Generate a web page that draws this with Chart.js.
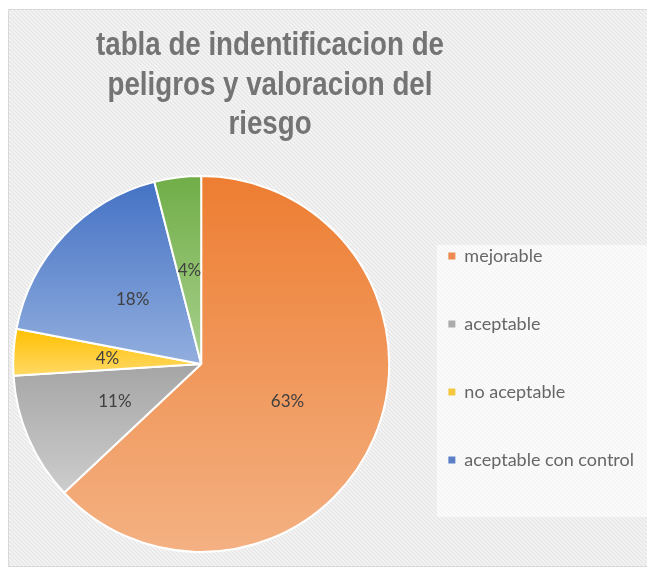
<!DOCTYPE html>
<html><head><meta charset="utf-8">
<script src="https://cdn.jsdelivr.net/npm/chart.js@4/dist/chart.umd.min.js"></script>
<style>html,body{margin:0;padding:0;background:#fff;}#wrap{width:647px;height:568px;position:relative;}</style>
</head><body><div id="wrap"><canvas id="c"></canvas></div>
<script>
const titleLines = ['tabla de indentificacion de', 'peligros y valoracion del', 'riesgo'];
const categories = ['mejorable', 'aceptable', 'no aceptable', 'aceptable con control', ''];
const values = [63, 11, 4, 18, 4];
const legendCount = 4;
const colorsTop = ['#ED7D31', '#A5A5A5', '#FFC000', '#4472C4', '#70AD47'];
const colorsBottom = ['#F4B183', '#CDCDCD', '#FFD966', '#92AEDE', '#A9D18E'];
const legendColors = ['#EE8A50', '#ABABAB', '#F5C842', '#5B7FC6'];

function sliceGradient(ctx) {
  const i = ctx.dataIndex;
  const chart = ctx.chart;
  const area = chart.chartArea;
  if (!area) return colorsTop[i];
  const cx = (area.left + area.right) / 2, cy = (area.top + area.bottom) / 2;
  const r = Math.min(area.right - area.left, area.bottom - area.top) / 2;
  const total = values.reduce((a, b) => a + b, 0);
  let start = -Math.PI / 2;
  for (let k = 0; k < i; k++) start += values[k] / total * 2 * Math.PI;
  const end = start + values[i] / total * 2 * Math.PI;
  const ys = [cy, cy + r * Math.sin(start), cy + r * Math.sin(end)];
  for (const a of [-Math.PI / 2, Math.PI / 2, 3 * Math.PI / 2]) {
    if (a >= start && a <= end) ys.push(cy + r * Math.sin(a));
  }
  const y0 = Math.min(...ys), y1 = Math.max(...ys);
  const g = chart.ctx.createLinearGradient(0, y0, 0, y1 + 0.01);
  g.addColorStop(0, colorsTop[i]);
  g.addColorStop(1, colorsBottom[i]);
  return g;
}

function makePattern(c) {
  const p = document.createElement('canvas');
  p.width = 4; p.height = 4;
  const x = p.getContext('2d');
  x.fillStyle = '#F5F5F5';
  x.fillRect(0, 0, 4, 4);
  x.strokeStyle = '#E3E3E3';
  x.lineWidth = 1.2;
  x.beginPath();
  x.moveTo(-1, -1); x.lineTo(5, 5);
  x.moveTo(-1, 3); x.lineTo(1, 5);
  x.moveTo(3, -1); x.lineTo(5, 1);
  x.stroke();
  return c.createPattern(p, 'repeat');
}

const bgPlugin = {
  id: 'bg',
  beforeDraw(chart) {
    const c = chart.ctx;
    c.save();
    c.fillStyle = '#ffffff';
    c.fillRect(0, 0, chart.width, chart.height);
    c.fillStyle = makePattern(c);
    c.fillRect(8, 9, chart.width - 8, chart.height - 10);
    c.strokeStyle = '#D9D9D9';
    c.lineWidth = 1;
    c.strokeRect(8.5, 9.5, chart.width - 8, chart.height - 11);
    c.fillStyle = 'rgba(255,255,255,0.6)';
    c.fillRect(437, 245, chart.width - 437, 272);
    c.restore();
  }
};

const titlePlugin = {
  id: 'narrowTitle',
  afterDraw(chart) {
    const c = chart.ctx;
    c.save();
    c.font = 'bold 34px "Liberation Sans", Arial, sans-serif';
    c.fillStyle = '#747474';
    c.textAlign = 'center';
    c.textBaseline = 'alphabetic';
    const cx = 270;
    titleLines.forEach((line, i) => {
      c.save();
      c.translate(cx, 55 + i * 39.5);
      c.scale(0.815, 1);
      c.fillText(line, 0, 0);
      c.restore();
    });
    c.restore();
  }
};

const labelPlugin = {
  id: 'pctLabels',
  afterDatasetsDraw(chart) {
    const c = chart.ctx;
    const meta = chart.getDatasetMeta(0);
    const total = values.reduce((a, b) => a + b, 0);
    c.save();
    c.font = '17px Lato, "Open Sans", sans-serif';
    c.fillStyle = '#404040';
    c.textAlign = 'center';
    c.textBaseline = 'middle';
    meta.data.forEach((arc, i) => {
      const p = arc.tooltipPosition();
      c.fillText(Math.round(values[i] / total * 100) + '%', p.x, p.y);
    });
    c.restore();
  }
};

new Chart(document.getElementById('c'), {
  type: 'pie',
  data: {
    labels: categories,
    datasets: [{
      data: values,
      backgroundColor: sliceGradient,
      borderColor: '#ffffff',
      borderWidth: 2
    }]
  },
  options: {
    responsive: true,
    maintainAspectRatio: false,
    animation: false,
    layout: { padding: { left: 4, right: 3, top: 175, bottom: 15 } },
    plugins: {
      tooltip: { enabled: false },
      title: { display: false },
      legend: {
        display: true,
        position: 'right',
        align: 'start',
        title: { display: true, text: ' ', font: { size: 10, lineHeight: 1 }, padding: { top: 0, bottom: 12 } },
        labels: {
          color: '#595959',
          font: { family: 'Lato, "Open Sans", sans-serif', size: 18 },
          boxWidth: 7,
          boxHeight: 7,
          padding: 50,
          filter: (item) => item.index < legendCount,
          generateLabels: (chart) => categories.slice(0, legendCount).map((t, i) => ({
            text: t, fillStyle: legendColors[i], strokeStyle: legendColors[i], lineWidth: 0, index: i, hidden: false
          }))
        }
      }
    }
  },
  plugins: [bgPlugin, titlePlugin, labelPlugin]
});
</script>
</body></html>
